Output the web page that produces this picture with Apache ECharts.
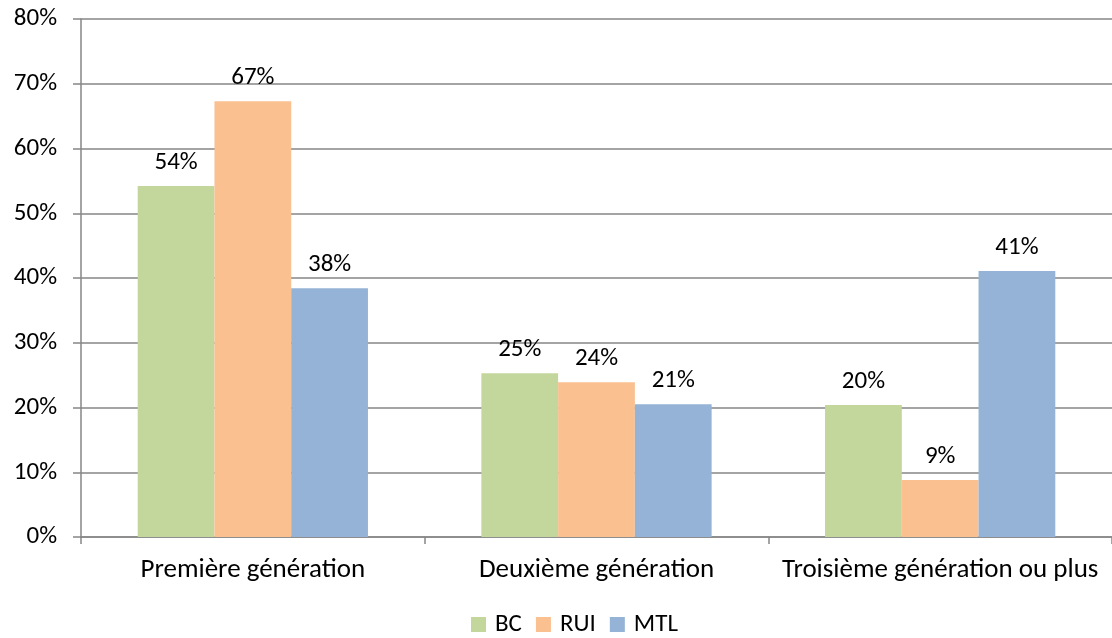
<!DOCTYPE html>
<html>
<head>
<meta charset="utf-8">
<script src="https://cdn.jsdelivr.net/npm/echarts@6/dist/echarts.min.js"></script>
<style>
  html, body { margin: 0; padding: 0; background: #fff; }
  #chart { width: 1112px; height: 638px; }
</style>
</head>
<body>
<div id="chart"></div>
<script>
// catégories et valeurs (%)
const categories = ['Première génération', 'Deuxième génération', 'Troisième génération ou plus']
const seriesNames = ['BC', 'RUI', 'MTL']
const bcValues = [54.2, 25.3, 20.4]
const ruiValues = [67.3, 23.9, 8.8]
const mtlValues = [38.4, 20.5, 41.1]
const colors = ['#c3d69b', '#fac090', '#95b3d7']

const font = 'Carlito, "Open Sans", "Liberation Sans", sans-serif'
const fontSize = 25
const axisGrey = '#868686'

const chart = echarts.init(document.getElementById('chart'))

function makeSeries(name, data, color) {
  return {
    name: name,
    type: 'bar',
    data: data,
    barGap: '0%',
    barCategoryGap: '33%',
    itemStyle: { color: color },
    label: {
      show: true,
      position: 'top',
      distance: 11,
      color: '#000',
      fontSize: fontSize,
      fontFamily: font,
      formatter: p => Math.round(p.value) + '%'
    }
  }
}

const option = {
  animation: false,
  grid: { left: 81, right: -4, top: 19, bottom: 101 },
  legend: {
    bottom: -4,
    left: 466,
    itemWidth: 15,
    itemHeight: 15,
    itemGap: 14,
    icon: 'rect',
    textStyle: { fontSize: fontSize, fontFamily: font, color: '#000', padding: [0, 0, 0, 4] },
    data: seriesNames
  },
  xAxis: {
    type: 'category',
    data: categories,
    axisLine: { lineStyle: { color: axisGrey, width: 1.5 } },
    axisTick: { show: true, interval: 0, length: 7, lineStyle: { color: axisGrey, width: 1.5 } },
    axisLabel: { interval: 0, margin: 20, fontSize: 27, fontFamily: font, color: '#000' }
  },
  yAxis: {
    type: 'value',
    min: 0,
    max: 80,
    interval: 10,
    axisLine: { show: true, lineStyle: { color: axisGrey, width: 1.5 } },
    axisTick: { show: true, length: 8, lineStyle: { color: axisGrey, width: 1.5 } },
    splitLine: { lineStyle: { color: axisGrey, width: 1.5 } },
    axisLabel: { margin: 24, fontSize: fontSize, fontFamily: font, color: '#000', formatter: '{value}%' }
  },
  series: [
    makeSeries(seriesNames[0], bcValues, colors[0]),
    makeSeries(seriesNames[1], ruiValues, colors[1]),
    makeSeries(seriesNames[2], mtlValues, colors[2])
  ]
}

chart.setOption(option)
</script>
</body>
</html>
